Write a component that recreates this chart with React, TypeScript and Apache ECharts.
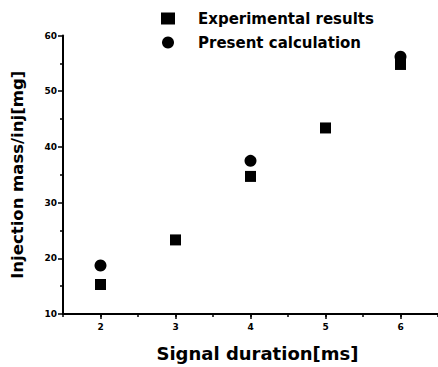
import React, { useEffect, useRef } from "react";
import * as echarts from "echarts";

const experimentalX = [2, 3, 4, 5, 6];
const experimentalY = [15.3, 23.3, 34.7, 43.4, 54.8];
const calculationX = [2, 4, 6];
const calculationY = [18.7, 37.5, 56.2];
const xTicks = [2, 3, 4, 5, 6];
const yTicks = [10, 20, 30, 40, 50, 60];

export default function App() {
  const ref = useRef<HTMLDivElement>(null);
  useEffect(() => {
    if (!ref.current) return;
    const chart = echarts.init(ref.current, null, { renderer: "svg" });
    const font = "DejaVu Sans";
    chart.setOption({
      animation: false,
      backgroundColor: "#ffffff",
      legend: {
        orient: "vertical",
        left: 156,
        top: 6,
        itemGap: 9,
        itemWidth: 14,
        itemHeight: 12,
        textStyle: { fontFamily: font, fontSize: 15, fontWeight: "bold", color: "#000", padding: [0, 0, 0, 18] },
        data: [
          { name: "Experimental results", icon: "rect" },
          { name: "Present calculation", icon: "circle" },
        ],
      },
      grid: { left: 63, top: 35.5, bottom: 51.5, right: -4, containLabel: false },
      xAxis: [
        {
          type: "value",
          min: 1.5,
          max: 6.5,
          interval: 0.5,
          axisLine: { show: true, onZero: false, lineStyle: { color: "#000", width: 2 } },
          axisTick: { show: true, length: 3, lineStyle: { color: "#000", width: 1.5 } },
          splitLine: { show: false },
          axisLabel: {
            fontFamily: font,
            fontSize: 9,
            fontWeight: "bold",
            color: "#000",
            margin: 8,
            customValues: xTicks,
            formatter: (v: number) => (xTicks.includes(v) ? String(v) : ""),
          },
          name: "Signal duration[ms]",
          nameLocation: "middle",
          nameGap: 30,
          nameTextStyle: { fontFamily: font, fontSize: 18, fontWeight: 900, color: "#000", padding: [0, 0, 0, 14] },
        },
        {
          type: "value",
          position: "bottom",
          min: 1.5,
          max: 6.5,
          interval: 0.5,
          axisLine: { show: false, onZero: false },
          axisTick: { show: true, length: 5, customValues: xTicks, lineStyle: { color: "#000", width: 1.5 } },
          splitLine: { show: false },
          axisLabel: { show: false },
        },
      ],
      yAxis: {
        type: "value",
        min: 10,
        max: 60,
        interval: 10,
        minorTick: { show: true, splitNumber: 2, length: 3, lineStyle: { color: "#000", width: 1.5 } },
        axisLine: { show: true, onZero: false, lineStyle: { color: "#000", width: 2 } },
        axisTick: { show: true, length: 5, lineStyle: { color: "#000", width: 1.5 } },
        splitLine: { show: false },
        axisLabel: {
          fontFamily: font,
          fontSize: 9,
          fontWeight: "bold",
          color: "#000",
          margin: 6,
          formatter: (v: number) => (yTicks.includes(v) ? String(v) : ""),
        },
        name: "Injection mass/inj[mg]",
        nameLocation: "middle",
        nameGap: 37,
        nameTextStyle: { fontFamily: font, fontSize: 16.5, fontWeight: 900, color: "#000" },
      },
      series: [
        {
          name: "Experimental results",
          type: "scatter",
          symbol: "rect",
          symbolSize: 11,
          itemStyle: { color: "#000", opacity: 1 },
          data: experimentalX.map((x, i) => [x, experimentalY[i]]),
        },
        {
          name: "Present calculation",
          type: "scatter",
          symbol: "circle",
          symbolSize: 12,
          itemStyle: { color: "#000", opacity: 1 },
          data: calculationX.map((x, i) => [x, calculationY[i]]),
        },
      ],
    });
    return () => chart.dispose();
  }, []);
  return <div ref={ref} style={{ width: 438, height: 367, position: "absolute", left: 0, top: 0 }} />;
}
